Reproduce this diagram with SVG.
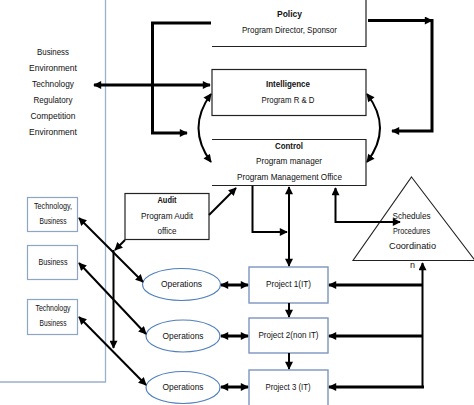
<svg xmlns="http://www.w3.org/2000/svg" width="474" height="405" viewBox="0 0 474 405">
<defs>
<marker id="ah" viewBox="0 0 10 10" refX="9" refY="5" markerWidth="9" markerHeight="8" markerUnits="userSpaceOnUse" orient="auto-start-reverse">
<path d="M0,0 L10,5 L0,10 z" fill="#000"/>
</marker>
<style>
text{font-family:"Liberation Sans",Arial,sans-serif;font-size:9px;fill:#111;text-anchor:middle;dominant-baseline:middle}
.b{font-weight:bold}
.box{fill:#fff;stroke:#222;stroke-width:1.2}
.sbox{fill:#fff;stroke:#8ea6c6;stroke-width:1.2}
.pbox{fill:#fff;stroke:#7b95bf;stroke-width:1.4}
.ov{fill:#fff;stroke:#4f7fbd;stroke-width:1.2}
.c{fill:none;stroke:#000;stroke-width:2}
.t{fill:none;stroke:#000;stroke-width:3}
.e{marker-end:url(#ah)}
.d{marker-start:url(#ah);marker-end:url(#ah)}
</style>
</defs>
<path d="M105.5,0 V382 H0" fill="none" stroke="#9ab0cc" stroke-width="1.3"/>
<g id="env">
<text x="53" y="53" textLength="32" lengthAdjust="spacingAndGlyphs">Business</text>
<text x="53" y="69" textLength="48" lengthAdjust="spacingAndGlyphs">Environment</text>
<text x="53" y="85" textLength="42" lengthAdjust="spacingAndGlyphs">Technology</text>
<text x="53" y="101" textLength="39" lengthAdjust="spacingAndGlyphs">Regulatory</text>
<text x="53" y="117" textLength="45" lengthAdjust="spacingAndGlyphs">Competition</text>
<text x="53" y="133" textLength="48" lengthAdjust="spacingAndGlyphs">Environment</text>
</g>
<g id="policy">
<path d="M366,0 V46.5 H212" fill="none" stroke="#222" stroke-width="1.2"/>
<text class="b" x="289.5" y="15" textLength="25" lengthAdjust="spacingAndGlyphs">Policy</text>
<text x="289.5" y="31" textLength="95" lengthAdjust="spacingAndGlyphs">Program Director, Sponsor</text>
</g>
<g id="intelligence">
<rect class="box" x="212" y="69.5" width="154" height="46"/>
<text class="b" x="288" y="85" textLength="44" lengthAdjust="spacingAndGlyphs">Intelligence</text>
<text x="288" y="101" textLength="53" lengthAdjust="spacingAndGlyphs">Program R &amp; D</text>
</g>
<g id="control">
<path d="M212,139.5 H366 V185.5 H212" fill="#fff" stroke="#222" stroke-width="1.2"/>
<text class="b" x="289" y="147" textLength="28" lengthAdjust="spacingAndGlyphs">Control</text>
<text x="289" y="162" textLength="66" lengthAdjust="spacingAndGlyphs">Program manager</text>
<text x="289.5" y="178" textLength="105" lengthAdjust="spacingAndGlyphs">Program Management Office</text>
</g>
<g id="audit">
<rect class="box" x="125" y="193.5" width="84" height="46"/>
<text class="b" x="167" y="201" textLength="19" lengthAdjust="spacingAndGlyphs">Audit</text>
<text x="167" y="217" textLength="52" lengthAdjust="spacingAndGlyphs">Program Audit</text>
<text x="167" y="232" textLength="19" lengthAdjust="spacingAndGlyphs">office</text>
</g>
<g id="tb1">
<rect class="sbox" x="27.5" y="197.5" width="50" height="34"/>
<text x="53" y="207" textLength="38" lengthAdjust="spacingAndGlyphs">Technology,</text>
<text x="53" y="222" textLength="27" lengthAdjust="spacingAndGlyphs">Business</text>
</g>
<g id="b2">
<rect class="sbox" x="27.5" y="245.5" width="50" height="34"/>
<text x="53" y="263" textLength="29" lengthAdjust="spacingAndGlyphs">Business</text>
</g>
<g id="tb3">
<rect class="sbox" x="27.5" y="299.5" width="50" height="35"/>
<text x="53" y="309" textLength="35" lengthAdjust="spacingAndGlyphs">Technology</text>
<text x="53" y="324" textLength="27" lengthAdjust="spacingAndGlyphs">Business</text>
</g>
<g id="ops1">
<ellipse class="ov" cx="181.5" cy="284.5" rx="39" ry="16"/>
<text x="181.5" y="285" textLength="41" lengthAdjust="spacingAndGlyphs">Operations</text>
</g>
<g id="ops2">
<ellipse class="ov" cx="183" cy="336" rx="37" ry="16"/>
<text x="183" y="336.5" textLength="41" lengthAdjust="spacingAndGlyphs">Operations</text>
</g>
<g id="ops3">
<ellipse class="ov" cx="183" cy="387.5" rx="37" ry="16"/>
<text x="183" y="388" textLength="41" lengthAdjust="spacingAndGlyphs">Operations</text>
</g>
<g id="p1">
<rect class="pbox" x="249" y="267" width="79" height="36"/>
<text x="288.5" y="285" textLength="45" lengthAdjust="spacingAndGlyphs">Project 1(IT)</text>
</g>
<g id="p2">
<rect class="pbox" x="249" y="318" width="79" height="35"/>
<text x="288.5" y="336" textLength="60" lengthAdjust="spacingAndGlyphs">Project 2(non IT)</text>
</g>
<g id="p3">
<rect class="pbox" x="249" y="370" width="79" height="36"/>
<text x="288" y="388" textLength="45" lengthAdjust="spacingAndGlyphs">Project 3 (IT)</text>
</g>
<g id="triangle">
<path d="M411.5,177 L475,260.5 L353,260.5 Z" fill="#fff" stroke="#222" stroke-width="1.1"/>
<text x="411.5" y="217" textLength="38" lengthAdjust="spacingAndGlyphs">Schedules</text>
<text x="411.5" y="232" textLength="37" lengthAdjust="spacingAndGlyphs">Procedures</text>
<text x="412.5" y="247" textLength="47" lengthAdjust="spacingAndGlyphs">Coordinatio</text>
<text x="412.5" y="266">n</text>
</g>
<g id="connectors">
<path class="t e" d="M211,23 H152.5 V133 H187"/>
<path class="t d" d="M94,85 H210"/>
<path class="c d" d="M211,94 Q186,128 211,162"/>
<path class="c d" d="M367,94 Q393,128 367,162"/>
<path class="t e" d="M368,20.5 H432 V131 H392"/>
<path class="t e" d="M368,20.5 H432"/>
<path class="c e" d="M209,215 L236,188"/>
<path class="c e" d="M125,240 L115,250"/>
<path class="c e" d="M113.5,250 V348"/>
<path class="c d" d="M79,218 L143,282"/>
<path class="c d" d="M79,263 L146,334"/>
<path class="c d" d="M79,317 L146,385"/>
<path class="t d" d="M221,285 H248"/>
<path class="t d" d="M221,336 H248"/>
<path class="t d" d="M221,387 H248"/>
<path class="c d" d="M289,187 V266"/>
<path class="c e" d="M252.5,186 V232 H287"/>
<path class="c e" d="M335.5,223 V188"/>
<path class="c e" d="M335.5,222 H400"/>
<path class="c e" d="M289,303 V317"/>
<path class="c e" d="M289,353 V369"/>
<path class="c e" d="M422.5,387 V263"/>
<path class="t e" d="M422.5,285 H329"/>
<path class="t e" d="M422.5,336 H329"/>
<path class="t e" d="M424,387 H329"/>
</g>
</svg>
